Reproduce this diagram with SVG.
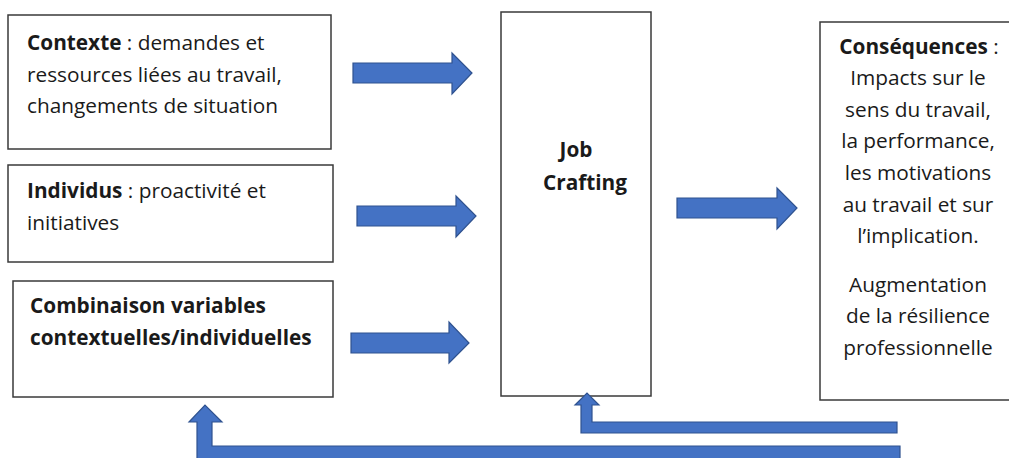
<svg xmlns="http://www.w3.org/2000/svg" width="1009" height="458" viewBox="0 0 1009 458">
<style>
.box{fill:#fff;stroke:#3a3a3a;stroke-width:1.5}
.arr{fill:#4472C4;stroke:#2F528F;stroke-width:1.2;stroke-linejoin:miter}
text{font-family:"Open Sans","Noto Sans",sans-serif;font-size:20.8px;fill:#1a1a1a}
.b{font-weight:bold}
.c{text-anchor:middle}
</style>
<rect width="1009" height="458" fill="#fff"/>
<g id="contexte">
<rect class="box" x="8" y="15" width="323" height="134"/>
<text x="27" y="50"><tspan class="b">Contexte</tspan> : demandes et</text>
<text x="27" y="82">ressources liées au travail,</text>
<text x="27" y="113">changements de situation</text>
</g>
<g id="individus">
<rect class="box" x="8" y="165" width="325" height="97"/>
<text x="27" y="198"><tspan class="b">Individus</tspan> : proactivité et</text>
<text x="27" y="230">initiatives</text>
</g>
<g id="combinaison">
<rect class="box" x="13" y="281" width="320" height="116"/>
<text class="b" x="30" y="313" font-size="19.5">Combinaison variables</text>
<text class="b" x="30" y="345" font-size="19.5">contextuelles/individuelles</text>
</g>
<g id="jobcrafting">
<rect class="box" x="501" y="12" width="150" height="384"/>
<text class="b c" x="576" y="157" font-size="19.5">Job</text>
<text class="b c" x="585" y="190" font-size="19.5">Crafting</text>
</g>
<g id="consequences">
<rect class="box" x="820" y="22" width="200" height="378"/>
<text class="c" x="919" y="54"><tspan class="b">Conséquences</tspan> :</text>
<text class="c" x="918" y="85">Impacts sur le</text>
<text class="c" x="918" y="117">sens du travail,</text>
<text class="c" x="918" y="148">la performance,</text>
<text class="c" x="918" y="180">les motivations</text>
<text class="c" x="918" y="212">au travail et sur</text>
<text class="c" x="918" y="243">l’implication.</text>
<text class="c" x="918" y="292">Augmentation</text>
<text class="c" x="918" y="323">de la résilience</text>
<text class="c" x="918" y="355">professionnelle</text>
</g>
<g id="connectors">
<polygon class="arr" points="353,63 452,63 452,53 472,73 452,94 452,83 353,83"/>
<polygon class="arr" points="357,206 456,206 456,196 476,216 456,237 456,226 357,226"/>
<polygon class="arr" points="351,333 449,333 449,322 469,343 449,363 449,353 351,353"/>
<polygon class="arr" points="677,198 777,198 777,188 797,208 777,229 777,218 677,218"/>
<polygon class="arr" points="897,422 592,422 592,405 599,405 587,393 575,405 581,405 581,433 897,433"/>
<polygon class="arr" points="900,446 212,446 212,422 222,422 205,405 189,422 197,422 197,462 900,462"/>
</g>
</svg>
